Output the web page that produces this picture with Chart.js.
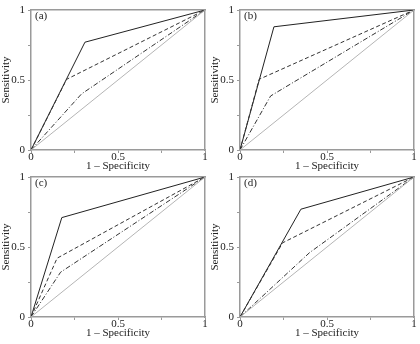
<!DOCTYPE html>
<html>
<head>
<meta charset="utf-8">
<script src="https://cdn.jsdelivr.net/npm/chart.js@4.4.1/dist/chart.umd.min.js"></script>
<style>
  html, body { margin: 0; padding: 0; background: #fff; }
  #wrap { position: relative; width: 420px; height: 344px; overflow: hidden; }
  .panel { position: absolute; width: 210px; height: 176px; }
</style>
</head>
<body>
<div id="wrap">
  <div class="panel" style="left:0;top:0"><canvas id="pa"></canvas></div>
  <div class="panel" style="left:209px;top:0"><canvas id="pb"></canvas></div>
  <div class="panel" style="left:0;top:167px"><canvas id="pc"></canvas></div>
  <div class="panel" style="left:209px;top:167px"><canvas id="pd"></canvas></div>
</div>
<script>
// panel letters
const panelNames = ['(a)', '(b)', '(c)', '(d)'];

// bend point of each ROC curve (1 - specificity, sensitivity), per panel
const solidFpr = [0.31, 0.195, 0.177, 0.35];
const solidTpr = [0.77, 0.88, 0.71, 0.77];
const dashFpr = [0.205, 0.11, 0.15, 0.245];
const dashTpr = [0.505, 0.505, 0.42, 0.53];
const dotFpr = [0.29, 0.176, 0.17, 0.40];
const dotTpr = [0.40, 0.386, 0.32, 0.46];

// axis ticks
const tickValues = [0, 0.25, 0.5, 0.75, 1];
const tickLabels = ['0', '', '0.5', '', '1'];

const axisColor = '#9a9a9a';
const textColor = '#222';
const font = { family: "'Liberation Serif', 'Times New Roman', serif", size: 11 };

Chart.defaults.font.family = font.family;
Chart.defaults.color = textColor;

function roc(fpr, tpr) {
    return [{ x: 0, y: 0 }, { x: fpr, y: tpr }, { x: 1, y: 1 }];
}

const letterPlugin = {
    id: 'letter',
    afterDraw(chart, args, opts) {
        const ctx = chart.ctx;
        const area = chart.chartArea;
        ctx.save();
        ctx.font = font.size + 'px ' + font.family;
        ctx.fillStyle = textColor;
        ctx.textBaseline = 'middle';
        ctx.textAlign = 'left';
        ctx.fillText(opts.text, area.left + 4, area.top + 6);
        ctx.restore();
    }
};

function setTicks(scale) {
    scale.ticks = tickValues.map(v => ({ value: v }));
}

function makePanel(canvasId, i) {
    new Chart(document.getElementById(canvasId), {
        type: 'scatter',
        data: {
            datasets: [
                {
                    data: [{ x: 0, y: 0 }, { x: 1, y: 1 }],
                    borderColor: '#b5b5b5',
                    borderWidth: 1
                },
                {
                    data: roc(dotFpr[i], dotTpr[i]),
                    borderColor: '#333',
                    borderWidth: 1,
                    borderDash: [5, 2, 1, 2]
                },
                {
                    data: roc(dashFpr[i], dashTpr[i]),
                    borderColor: '#333',
                    borderWidth: 1,
                    borderDash: [4, 2.5]
                },
                {
                    data: roc(solidFpr[i], solidTpr[i]),
                    borderColor: '#222',
                    borderWidth: 1
                }
            ].map(d => Object.assign(d, { showLine: true, pointRadius: 0, tension: 0, fill: false }))
        },
        options: {
            responsive: true,
            maintainAspectRatio: false,
            animation: false,
            events: [],
            layout: { padding: { top: 10, right: 5, left: 0, bottom: 0 } },
            plugins: {
                legend: { display: false },
                tooltip: { enabled: false },
                letter: { text: panelNames[i] }
            },
            scales: {
                x: {
                    type: 'linear',
                    min: 0, max: 1,
                    afterBuildTicks: setTicks,
                    afterFit: s => { s.height = 26; },
                    grid: { display: true, drawOnChartArea: false, drawTicks: true, tickLength: 3, color: axisColor },
                    border: { display: true, color: axisColor, width: 1.5 },
                    ticks: {
                        font: font, color: textColor, padding: -2, maxRotation: 0,
                        callback: (v, idx) => tickLabels[idx]
                    },
                    title: { display: true, text: '1 – Specificity', font: font, color: textColor, padding: { top: 0, bottom: 3 } }
                },
                y: {
                    type: 'linear',
                    min: 0, max: 1,
                    afterBuildTicks: setTicks,
                    afterFit: s => { s.width = 31; },
                    grid: { display: true, drawOnChartArea: false, drawTicks: true, tickLength: 3, color: axisColor },
                    border: { display: true, color: axisColor, width: 1.5 },
                    ticks: {
                        font: font, color: textColor, padding: 3,
                        callback: (v, idx) => tickLabels[idx]
                    },
                    title: { display: true, text: 'Sensitivity', font: font, color: textColor, padding: { top: 0, bottom: 0 } }
                },
                x2: {
                    type: 'linear', position: 'top', min: 0, max: 1,
                    afterFit: s => { s.height = 0; },
                    grid: { display: false },
                    ticks: { display: false },
                    border: { display: true, color: axisColor, width: 1.5 }
                },
                y2: {
                    type: 'linear', position: 'right', min: 0, max: 1,
                    afterFit: s => { s.width = 0; },
                    grid: { display: false },
                    ticks: { display: false },
                    border: { display: true, color: axisColor, width: 1.5 }
                }
            }
        },
        plugins: [letterPlugin]
    });
}

makePanel('pa', 0);
makePanel('pb', 1);
makePanel('pc', 2);
makePanel('pd', 3);
</script>
</body>
</html>
